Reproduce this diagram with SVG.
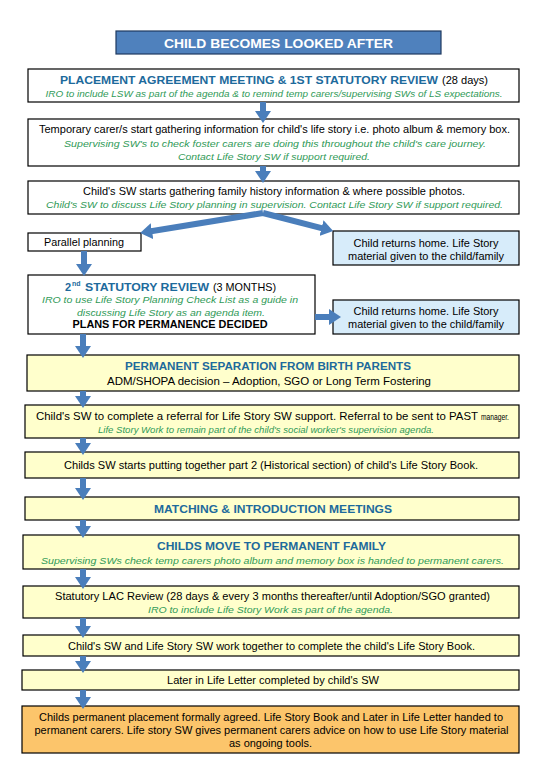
<svg xmlns="http://www.w3.org/2000/svg" width="540" height="780" viewBox="0 0 540 780">
<style>
text{font-family:"Liberation Sans",Arial,sans-serif;font-size:10.5px;fill:#000;text-anchor:middle}
.box{stroke:#000;stroke-width:1.2;fill:#fff}
.y{fill:#ffffcc}
.b{fill:#d7ecfa}
.o{fill:#fcc56b}
.hd{font-weight:bold;fill:#1d6a9c;font-size:11px}
.g{font-style:italic;fill:#2f9a57;font-size:9.5px}
.bk{font-weight:bold;font-size:10.5px}
.st{text-anchor:start}
.arr{stroke:#4a7ebb;stroke-width:6;fill:none;marker-end:url(#ah)}
</style>
<defs>
<marker id="ah" markerUnits="userSpaceOnUse" markerWidth="13" markerHeight="16" refX="1" refY="8" orient="auto">
<path d="M0,0 L12,8 L0,16 z" fill="#4a7ebb"/>
</marker>
</defs>
<rect width="540" height="780" fill="#fff"/>

<g id="n0">
<rect x="116" y="31" width="325" height="23" fill="#4f81bd" stroke="#1f3a60" stroke-width="1.2"/>
<text x="278.5" y="47.5" style="font-weight:bold;font-size:13px;fill:#fff" textLength="229" lengthAdjust="spacingAndGlyphs">CHILD BECOMES LOOKED AFTER</text>
</g>

<g id="n1">
<rect class="box" x="28" y="69" width="491" height="33"/>
<text class="hd st" x="60" y="84" textLength="378" lengthAdjust="spacingAndGlyphs">PLACEMENT AGREEMENT MEETING &amp; 1ST STATUTORY REVIEW</text>
<text class="st" x="442" y="84" style="font-size:11px" textLength="46" lengthAdjust="spacingAndGlyphs">(28 days)</text>
<text class="g" x="274" y="97" textLength="457" lengthAdjust="spacingAndGlyphs">IRO to include LSW as part of the agenda &amp; to remind temp carers/supervising SWs of LS expectations.</text>
</g>

<g id="n2">
<rect class="box" x="28" y="119" width="491" height="47"/>
<text x="274.5" y="133" textLength="471" lengthAdjust="spacingAndGlyphs">Temporary carer/s start gathering information for child's life story i.e. photo album &amp; memory box.</text>
<text class="g" x="275" y="147" textLength="422" lengthAdjust="spacingAndGlyphs">Supervising SW's to check foster carers are doing this throughout the child's care journey.</text>
<text class="g" x="274" y="160" textLength="192" lengthAdjust="spacingAndGlyphs">Contact Life Story SW if support required.</text>
</g>

<g id="n3">
<rect class="box" x="28" y="181" width="491" height="33"/>
<text x="274" y="195" textLength="382" lengthAdjust="spacingAndGlyphs">Child's SW starts gathering family history information &amp; where possible photos.</text>
<text class="g" x="274.5" y="208" textLength="457" lengthAdjust="spacingAndGlyphs">Child's SW to discuss Life Story planning in supervision. Contact Life Story SW if support required.</text>
</g>

<g id="n4">
<rect class="box" x="28" y="233" width="113" height="18"/>
<text x="84" y="246" textLength="80" lengthAdjust="spacingAndGlyphs">Parallel planning</text>
</g>

<g id="n5">
<rect class="box b" x="333" y="231" width="186" height="34"/>
<text x="426" y="247" textLength="145" lengthAdjust="spacingAndGlyphs">Child returns home. Life Story</text>
<text x="426" y="259.5" textLength="156" lengthAdjust="spacingAndGlyphs">material given to the child/family</text>
</g>

<g id="n6">
<rect class="box" x="28" y="275" width="287" height="59"/>
<text class="hd st" x="65" y="291">2</text>
<text class="hd st" x="72" y="286" style="font-size:7px">nd</text>
<text class="hd st" x="85" y="291" textLength="124" lengthAdjust="spacingAndGlyphs">STATUTORY REVIEW</text>
<text class="st" x="213" y="291" textLength="63" lengthAdjust="spacingAndGlyphs">(3 MONTHS)</text>
<text class="g" x="170" y="303" textLength="256" lengthAdjust="spacingAndGlyphs">IRO to use Life Story Planning Check List as a guide in</text>
<text class="g" x="171" y="316" textLength="188" lengthAdjust="spacingAndGlyphs">discussing Life Story as an agenda item.</text>
<text class="bk" x="170" y="328" textLength="195" lengthAdjust="spacingAndGlyphs">PLANS FOR PERMANENCE DECIDED</text>
</g>

<g id="n7">
<rect class="box b" x="333" y="300" width="186" height="34"/>
<text x="426" y="315" textLength="145" lengthAdjust="spacingAndGlyphs">Child returns home. Life Story</text>
<text x="426" y="328" textLength="156" lengthAdjust="spacingAndGlyphs">material given to the child/family</text>
</g>

<g id="n8">
<rect class="box y" x="27" y="355" width="492" height="36"/>
<text class="hd" x="268" y="370" textLength="286" lengthAdjust="spacingAndGlyphs">PERMANENT SEPARATION FROM BIRTH PARENTS</text>
<text x="269" y="385" textLength="324" lengthAdjust="spacingAndGlyphs">ADM/SHOPA decision – Adoption,  SGO or Long Term Fostering</text>
</g>

<g id="n9">
<rect class="box y" x="25" y="405" width="494" height="33"/>
<text class="st" x="36" y="420" textLength="442" lengthAdjust="spacingAndGlyphs">Child's SW to complete a referral for Life Story SW support. Referral to be sent to PAST</text>
<text class="st" x="481" y="420" style="font-size:8.5px" textLength="28" lengthAdjust="spacingAndGlyphs">manager.</text>
<text class="g" x="266" y="433" textLength="336" lengthAdjust="spacingAndGlyphs">Life Story Work to remain part of the child's social worker's supervision agenda.</text>
</g>

<g id="n10">
<rect class="box y" x="25" y="452" width="494" height="26"/>
<text x="271" y="469" textLength="414" lengthAdjust="spacingAndGlyphs">Childs SW starts putting together part 2 (Historical section) of child's Life Story Book.</text>
</g>

<g id="n11">
<rect class="box y" x="25" y="497" width="494" height="23"/>
<text class="hd" x="273" y="513" textLength="238" lengthAdjust="spacingAndGlyphs">MATCHING &amp; INTRODUCTION MEETINGS</text>
</g>

<g id="n12">
<rect class="box y" x="23" y="535" width="496" height="34"/>
<text class="hd" x="271.5" y="550" textLength="229" lengthAdjust="spacingAndGlyphs">CHILDS MOVE TO PERMANENT FAMILY</text>
<text class="g" x="272.5" y="563.5" textLength="463" lengthAdjust="spacingAndGlyphs">Supervising SWs check temp carers photo album and memory box is handed to permanent carers.</text>
</g>

<g id="n13">
<rect class="box y" x="23" y="586" width="496" height="32"/>
<text x="272.5" y="599.5" textLength="435" lengthAdjust="spacingAndGlyphs">Statutory LAC Review (28 days &amp; every 3 months thereafter/until Adoption/SGO granted)</text>
<text class="g" x="270.5" y="612.5" textLength="245" lengthAdjust="spacingAndGlyphs">IRO to include Life Story Work as part of the agenda.</text>
</g>

<g id="n14">
<rect class="box y" x="23" y="635" width="496" height="21"/>
<text x="271.5" y="650" textLength="407" lengthAdjust="spacingAndGlyphs">Child's SW and Life Story SW work together to complete the child's Life Story Book.</text>
</g>

<g id="n15">
<rect class="box y" x="22" y="670" width="497" height="20"/>
<text x="273" y="684" textLength="212" lengthAdjust="spacingAndGlyphs">Later in Life Letter completed by child's SW</text>
</g>

<g id="n16">
<rect class="box o" x="22" y="706" width="497" height="47"/>
<text x="271" y="720.5" textLength="464" lengthAdjust="spacingAndGlyphs">Childs permanent placement formally agreed. Life Story Book and Later in Life Letter handed to</text>
<text x="271.5" y="733.5" textLength="474" lengthAdjust="spacingAndGlyphs">permanent carers. Life story SW gives permanent carers advice on how to use Life Story material</text>
<text x="270.5" y="746.5" textLength="83" lengthAdjust="spacingAndGlyphs">as ongoing tools.</text>
</g>

<g id="connectors">
<line class="arr" x1="263" y1="102" x2="263" y2="112"/>
<line class="arr" x1="263" y1="166" x2="263" y2="172"/>
<line class="arr" x1="263" y1="213" x2="151" y2="231.3"/>
<line class="arr" x1="263" y1="213" x2="322.5" y2="228.3"/>
<line class="arr" x1="84" y1="251" x2="84" y2="265"/>
<line class="arr" x1="315" y1="317" x2="330" y2="317"/>
<line class="arr" x1="83" y1="334" x2="83" y2="347"/>
<line class="arr" x1="83" y1="391" x2="83" y2="397"/>
<line class="arr" x1="83" y1="438" x2="83" y2="444"/>
<line class="arr" x1="83" y1="478" x2="83" y2="489"/>
<line class="arr" x1="83" y1="520" x2="83" y2="527"/>
<line class="arr" x1="83" y1="569" x2="83" y2="578"/>
<line class="arr" x1="83" y1="618" x2="83" y2="627"/>
<line class="arr" x1="83" y1="656" x2="83" y2="662"/>
<line class="arr" x1="83" y1="690" x2="83" y2="698"/>
</g>
</svg>
